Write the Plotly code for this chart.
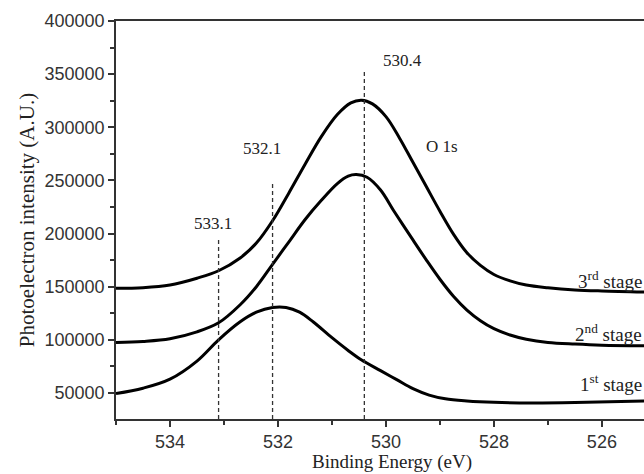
import plotly.graph_objects as go

# Binding energy (eV) sample points and intensities for each stage
x_3rd = [535.0, 534.5, 534.0, 533.5, 533.1, 532.7, 532.4, 532.1, 531.8, 531.5, 531.2, 530.9, 530.65, 530.45,
         530.25, 530.0, 529.75, 529.5, 529.25, 529.0, 528.75, 528.5, 528.25, 528.0, 527.7, 527.4, 527.0,
         526.5, 526.0, 525.2]
y_3rd = [148500, 149000, 151500, 158000, 165000, 177000, 191000, 212000, 238000, 265000, 291000, 312000, 323000, 325500,
         322000, 310000, 290000, 267000, 244000, 221000, 199500, 182000, 170000, 161500, 155500, 151500, 149000,
         147000, 146000, 145000]

x_2nd = [535.0, 534.5, 534.0, 533.5, 533.1, 532.7, 532.4, 532.1, 531.8, 531.5, 531.2, 530.9, 530.7, 530.55,
         530.35, 530.1, 529.85, 529.5, 529.25, 529.0, 528.75, 528.5, 528.25, 528.0, 527.7, 527.4, 527.0,
         526.5, 526.0, 525.2]
y_2nd = [97500, 98500, 101000, 107500, 116000, 133000, 150000, 171000, 192000, 213000, 231000, 247000, 254000, 255500,
         253000, 241000, 221000, 194000, 175000, 157000, 141000, 128000, 118000, 110500, 104500, 100500, 97500,
         96000, 95000, 94500]

x_1st = [535.0, 534.5, 534.0, 533.5, 533.1, 532.7, 532.4, 532.1, 531.85, 531.6, 531.35, 531.0, 530.7, 530.45,
         530.1, 529.8, 529.5, 529.2, 528.9, 528.5, 528.0, 527.3, 526.5, 525.2]
y_1st = [49500, 54500, 63000, 80000, 100000, 117000, 126000, 130500, 130500, 126000, 117000, 102000, 90000, 81000,
         71000, 62500, 54000, 48000, 44500, 42500, 41200, 40600, 41000, 42500]

# Peak markers (eV) and the heights their dashed lines reach
peak_positions = [533.1, 532.1, 530.4]
peak_labels = ["533.1", "532.1", "530.4"]
peak_line_tops = [194000, 247500, 354000]
peak_label_y = [209800, 280400, 363000]
peak_label_x = [533.2, 532.3, 529.7]

stage_labels = ["3<sup>rd</sup> stage", "2<sup>nd</sup> stage", "1<sup>st</sup> stage"]
stage_label_y = [143000, 93500, 46000]

y_bottom = 25500

fig = go.Figure()
for xs, ys in [(x_3rd, y_3rd), (x_2nd, y_2nd), (x_1st, y_1st)]:
    fig.add_trace(go.Scatter(x=xs, y=ys, mode="lines",
                             line=dict(color="black", width=3, shape="spline", smoothing=1.0),
                             showlegend=False, hoverinfo="skip"))

for px, top in zip(peak_positions, peak_line_tops):
    fig.add_trace(go.Scatter(x=[px, px], y=[y_bottom, top], mode="lines",
                             line=dict(color="#333", width=1.3, dash="4px,3px"),
                             showlegend=False, hoverinfo="skip"))

serif = "Liberation Serif, Times New Roman, serif"
sans = "Liberation Sans, Arial, sans-serif"
annotations = []
for lx, ly, txt in zip(peak_label_x, peak_label_y, peak_labels):
    annotations.append(dict(x=lx, y=ly, text=txt, showarrow=False, xref="x", yref="y",
                            font=dict(family=serif, size=17, color="#222")))
annotations.append(dict(x=528.96, y=282300, text="O 1s", showarrow=False, xref="x", yref="y",
                        font=dict(family=serif, size=17, color="#222")))
for txt, ly in zip(stage_labels, stage_label_y):
    annotations.append(dict(x=1.0, y=ly, xref="paper", yref="y", text=txt, showarrow=False,
                            xanchor="right", yanchor="bottom",
                            font=dict(family=serif, size=19, color="#222")))
annotations.append(dict(x=0.523, y=-0.107, xref="paper", yref="paper", text="Binding Energy (eV)",
                        showarrow=False, xanchor="center", yanchor="middle", borderpad=0,
                        font=dict(family=serif, size=19, color="#222")))

fig.update_layout(
    width=644, height=474,
    margin=dict(l=116, r=0, t=21, b=55),
    paper_bgcolor="white", plot_bgcolor="white",
    annotations=annotations,
    xaxis=dict(range=[535, 525.22], tickvals=[534, 532, 530, 528, 526],
               ticks="outside", ticklen=6, tickwidth=1.5, tickcolor="#333",
               minor=dict(tickvals=[535, 533, 531, 529, 527, 525], ticks="outside", ticklen=4, tickcolor="#333"),
               showline=True, linecolor="#333", linewidth=1.5, mirror=True,
               showgrid=False, zeroline=False,
               tickfont=dict(family=sans, size=18, color="#333")),
    yaxis=dict(range=[y_bottom, 400000], tickvals=[50000, 100000, 150000, 200000, 250000, 300000, 350000, 400000],
               tickformat="d",
               ticks="outside", ticklen=6, tickwidth=1.5, tickcolor="#333",
               minor=dict(tickvals=[75000, 125000, 175000, 225000, 275000, 325000, 375000], ticks="outside", ticklen=4, tickcolor="#333"),
               showline=True, linecolor="#333", linewidth=1.5,
               showgrid=False, zeroline=False,
               tickfont=dict(family=sans, size=18, color="#333"),
               title=dict(text="Photoelectron intensity (A.U.)", font=dict(family=serif, size=21, color="#222"), standoff=4)),
)

fig.write_html("out.html", config={"displayModeBar": False},
               post_script="document.body.style.margin='0';document.body.style.overflow='hidden';")
